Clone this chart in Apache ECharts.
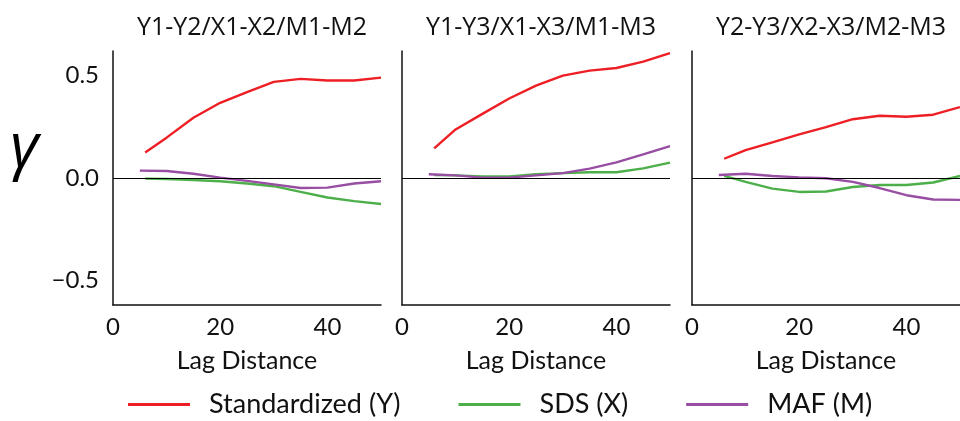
<!DOCTYPE html>
<html>
<head>
<meta charset="utf-8">
<script src="https://cdn.jsdelivr.net/npm/echarts@6/dist/echarts.min.js"></script>
<style>
  html, body { margin: 0; padding: 0; background: #fff; }
  #chart { width: 960px; height: 421px; }
</style>
</head>
<body>
<div id="chart"></div>
<script>
// lag distances (Y and X curves start slightly later than M)
const lagsYX = [6, 10, 15, 20, 25, 30, 35, 40, 45, 50];
const lagsM = [5, 10, 15, 20, 25, 30, 35, 40, 45, 50];

const panelTitles = ["Y1-Y2/X1-X2/M1-M2", "Y1-Y3/X1-X3/M1-M3", "Y2-Y3/X2-X3/M2-M3"];
const seriesNames = ["Standardized (Y)", "SDS (X)", "MAF (M)"];
const colors = ["#ee1f24", "#4daf4a", "#984ea3"];

// cross-variograms
const stdY = [
    [0.124, 0.197, 0.294, 0.367, 0.419, 0.469, 0.484, 0.476, 0.476, 0.49],
    [0.145, 0.237, 0.313, 0.388, 0.451, 0.5, 0.524, 0.537, 0.568, 0.61],
    [0.094, 0.136, 0.174, 0.213, 0.248, 0.287, 0.304, 0.299, 0.309, 0.346]
];
const sdsX = [
    [-0.003, -0.005, -0.01, -0.016, -0.027, -0.04, -0.068, -0.095, -0.113, -0.127],
    [0.015, 0.013, 0.008, 0.008, 0.018, 0.024, 0.028, 0.028, 0.047, 0.075],
    [0.01, -0.019, -0.052, -0.068, -0.066, -0.044, -0.034, -0.034, -0.022, 0.01]
];
const mafM = [
    [0.036, 0.034, 0.021, 0.002, -0.014, -0.031, -0.049, -0.047, -0.027, -0.016],
    [0.018, 0.013, 0.002, 0.002, 0.013, 0.024, 0.046, 0.076, 0.115, 0.156],
    [0.015, 0.021, 0.01, 0.003, -0.001, -0.019, -0.049, -0.084, -0.105, -0.107]
];

const xTicks = [0, 20, 40];
const yTicks = [-0.5, 0, 0.5];

const chart = echarts.init(document.getElementById("chart"));
const font = "Lato, 'Open Sans', sans-serif";

const gridLefts = [113, 402, 692];
const grids = gridLefts.map(l => ({ left: l, top: 51, width: 268, height: 254 }));

const titles = panelTitles.map((t, i) => ({
    text: t,
    left: gridLefts[i] + 134,
    textAlign: "center",
    top: 10,
    textStyle: { fontFamily: "'Open Sans', sans-serif", fontSize: 25, fontWeight: "normal", color: "#111" }
}));

const xAxes = grids.map((g, i) => ({
    type: "value",
    gridIndex: i,
    min: 0,
    max: 50,
    name: "Lag Distance",
    nameLocation: "middle",
    nameGap: 43,
    nameTextStyle: { fontFamily: font, fontSize: 25, color: "#111" },
    axisLine: { onZero: false, lineStyle: { color: "#111", width: 1.5 } },
    axisTick: { show: false },
    splitLine: { show: false },
    axisLabel: {
        customValues: xTicks,
        margin: 10,
        fontFamily: font, fontSize: 24, color: "#111"
    }
}));

const yAxes = grids.map((g, i) => ({
    type: "value",
    gridIndex: i,
    min: -0.62,
    max: 0.62,
    axisLine: { show: true, lineStyle: { color: "#111", width: 1.5 } },
    axisTick: { show: false },
    splitLine: { show: false },
    axisLabel: {
        show: i === 0,
        customValues: yTicks,
        margin: 14,
        formatter: v => (v < 0 ? "\u2212" : "") + Math.abs(v).toFixed(1),
        fontFamily: font, fontSize: 24, color: "#111"
    }
}));

const series = [];
for (let p = 0; p < 3; p++) {
    const sets = [
        { data: stdY[p], lags: lagsYX },
        { data: sdsX[p], lags: lagsYX },
        { data: mafM[p], lags: lagsM }
    ];
    sets.forEach((s, k) => {
        series.push({
            name: seriesNames[k],
            type: "line",
            xAxisIndex: p,
            yAxisIndex: p,
            data: s.data.map((v, j) => [s.lags[j], v]),
            showSymbol: false,
            symbol: "none",
            z: k === 0 ? 4 : 3,
            lineStyle: { color: colors[k], width: 2.4 },
            itemStyle: { color: colors[k] },
            markLine: k === 0 ? {
                silent: true,
                symbol: "none",
                label: { show: false },
                lineStyle: { color: "#000", width: 1, type: "solid" },
                data: [{ yAxis: 0 }]
            } : undefined
        });
    });
}

chart.setOption({
    animation: false,
    backgroundColor: "#fff",
    title: titles,
    grid: grids,
    xAxis: xAxes,
    yAxis: yAxes,
    graphic: [{
        type: "text",
        left: 10,
        top: 118,
        style: { text: "γ", font: "italic 62px 'Open Sans', sans-serif", fill: "#000" }
    }],
    legend: {
        data: seriesNames,
        left: 123,
        top: 386,
        icon: "rect",
        itemWidth: 62,
        itemHeight: 3,
        itemGap: 58,
        textStyle: { fontFamily: font, fontSize: 27, color: "#111", padding: [0, 0, 0, 14] }
    },
    series: series
});
</script>
</body>
</html>
